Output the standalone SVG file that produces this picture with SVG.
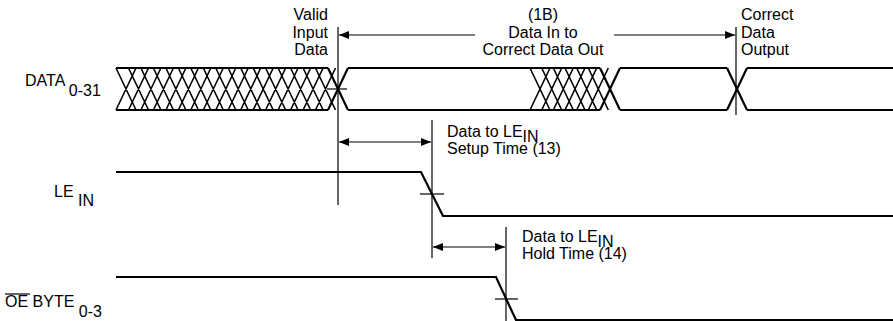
<svg xmlns="http://www.w3.org/2000/svg" width="893" height="321" viewBox="0 0 893 321">
<style>
.sig{fill:none;stroke:#000;stroke-width:2.2;stroke-linejoin:miter}
.hat{fill:none;stroke:#000;stroke-width:1.6}
.ref{fill:none;stroke:#000;stroke-width:1.2}
.arr{fill:none;stroke:#000;stroke-width:1.2}
text{font-family:"Liberation Sans",Arial,sans-serif;font-size:16px;fill:#000}
</style>
<defs>
<marker id="ah" markerUnits="userSpaceOnUse" markerWidth="11" markerHeight="8" refX="10" refY="4" orient="auto-start-reverse">
<path d="M0,0 L10,4 L0,8 z" fill="#000"/>
</marker>
</defs>
<rect width="893" height="321" fill="#fff"/>

<g id="data-signal">
<path class="sig" d="M116,68 H328 M116,110 H328 M328,68 L348,110 M328,110 L348,68 M348,68 H600 M348,110 H600 M600,68 L620,110 M600,110 L620,68 M620,68 H727 M620,110 H727 M727,68 L747,110 M727,110 L747,68 M747,68 H893 M747,110 H893"/>
<path class="hat" d="M116,68 L136,110 M136,68 L116,110 M128.5,68 L148.5,110 M148.5,68 L128.5,110 M140.9,68 L160.9,110 M160.9,68 L140.9,110 M153.4,68 L173.4,110 M173.4,68 L153.4,110 M165.9,68 L185.9,110 M185.9,68 L165.9,110 M178.4,68 L198.4,110 M198.4,68 L178.4,110 M190.8,68 L210.8,110 M210.8,68 L190.8,110 M203.3,68 L223.3,110 M223.3,68 L203.3,110 M215.8,68 L235.8,110 M235.8,68 L215.8,110 M228.2,68 L248.2,110 M248.2,68 L228.2,110 M240.7,68 L260.7,110 M260.7,68 L240.7,110 M253.2,68 L273.2,110 M273.2,68 L253.2,110 M265.6,68 L285.6,110 M285.6,68 L265.6,110 M278.1,68 L298.1,110 M298.1,68 L278.1,110 M290.6,68 L310.6,110 M310.6,68 L290.6,110 M303.1,68 L323.1,110 M323.1,68 L303.1,110 M315.5,68 L335.5,110 M335.5,68 L315.5,110"/>
<path class="hat" d="M530,68 L550,110 M550,68 L530,110 M541.7,68 L561.7,110 M561.7,68 L541.7,110 M553.3,68 L573.3,110 M573.3,68 L553.3,110 M565,68 L585,110 M585,68 L565,110 M576.7,68 L596.7,110 M596.7,68 L576.7,110 M588.3,68 L608.3,110 M608.3,68 L588.3,110"/>
<line class="ref" x1="327" y1="89" x2="347" y2="89"/>
</g>

<g id="le-signal">
<path class="sig" d="M116,172 H421 L443,216 H893"/>
<line class="ref" x1="420" y1="194" x2="444" y2="194"/>
</g>

<g id="oe-signal">
<path class="sig" d="M116,277 H496 L516,320 H893"/>
<line class="ref" x1="495" y1="299" x2="518" y2="299"/>
</g>

<g id="reference-lines">
<line class="ref" x1="338" y1="27" x2="338" y2="205"/>
<line class="ref" x1="736" y1="27" x2="736" y2="115"/>
<line class="ref" x1="432" y1="120" x2="432" y2="258"/>
<line class="ref" x1="506" y1="227" x2="506" y2="321"/>
</g>

<g id="connectors">
<line class="arr" x1="339" y1="35" x2="475" y2="35" marker-start="url(#ah)"/>
<line class="arr" x1="614" y1="35" x2="735" y2="35" marker-end="url(#ah)"/>
<line class="arr" x1="339" y1="142" x2="431" y2="142" marker-start="url(#ah)" marker-end="url(#ah)"/>
<line class="arr" x1="433" y1="247" x2="505" y2="247" marker-start="url(#ah)" marker-end="url(#ah)"/>
</g>

<g id="label-valid">
<text x="328" y="20" text-anchor="end">Valid</text>
<text x="328" y="37.5" text-anchor="end">Input</text>
<text x="328" y="55" text-anchor="end">Data</text>
</g>
<g id="label-1b">
<text x="543" y="20" text-anchor="middle">(1B)</text>
<text x="543" y="37.5" text-anchor="middle">Data In to</text>
<text x="543" y="55" text-anchor="middle">Correct Data Out</text>
</g>
<g id="label-correct">
<text x="741" y="20">Correct</text>
<text x="741" y="37.5">Data</text>
<text x="741" y="55">Output</text>
</g>
<g id="label-setup">
<text x="447" y="137">Data to LE<tspan dy="5">IN</tspan></text>
<text x="447" y="154">Setup Time (13)</text>
</g>
<g id="label-hold">
<text x="522" y="242">Data to LE<tspan dy="5">IN</tspan></text>
<text x="522" y="259">Hold Time (14)</text>
</g>

<g id="sig-labels">
<text x="25" y="86">DATA <tspan dy="10">0-31</tspan></text>
<text x="54" y="197">LE <tspan x="78" dy="9">IN</tspan></text>
<text x="5" y="307">OE BYTE <tspan dy="10">0-3</tspan></text>
<line class="ref" x1="5" y1="294" x2="30" y2="294"/>
</g>
</svg>
